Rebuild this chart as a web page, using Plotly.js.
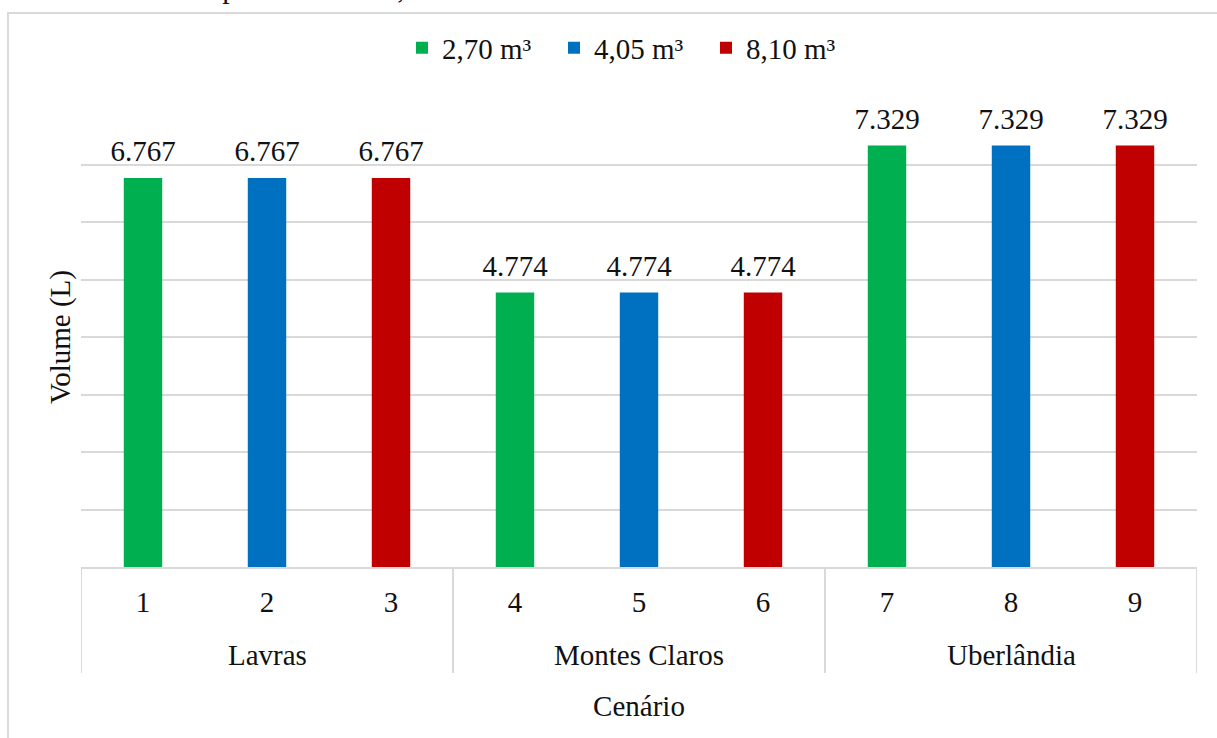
<!DOCTYPE html>
<html>
<head>
<meta charset="utf-8">
<script src="https://cdn.plot.ly/plotly-3.0.1.min.js"></script>
<style>
  html, body { margin: 0; padding: 0; background: #ffffff; }
  #chart { width: 1217px; height: 738px; }
</style>
</head>
<body>
<div id="chart"></div>
<script>
// ---- Data ----
const cities = ["Lavras", "Montes Claros", "Uberlândia"];
const scenarios = [["1", "2", "3"], ["4", "5", "6"], ["7", "8", "9"]];
const seriesNames = ["2,70 m³", "4,05 m³", "8,10 m³"];
const vol270 = [6767, 4774, 7329];   // scenarios 1, 4, 7
const vol405 = [6767, 4774, 7329];   // scenarios 2, 5, 8
const vol810 = [6767, 4774, 7329];   // scenarios 3, 6, 9
const seriesValues = [vol270, vol405, vol810];
const seriesColors = ["#00B050", "#0070C0", "#C00000"];
const captionText = "municípios de Lavras, Montes Claros e Uberlândia.";

// ---- Derived ----
const xCats = [].concat(...scenarios);
const groupStart = [];
let acc = 0;
scenarios.forEach(g => { groupStart.push(acc); acc += g.length; });

const FONT = "Liberation Serif";
const FS = 29;
const TXT = "#111111";
const GRID = "#d9d9d9";

// plot-area pixel geometry (used only for paper placement of frame items)
const W = 1217, H = 738, ML = 81, MR = 20, MT = 107, MB = 171;
const PW = W - ML - MR, PH = H - MT - MB;
const px2x = p => (p - ML) / PW;
const py2y = p => (H - MB - p) / PH;

const traces = [];
seriesValues.forEach((vals, k) => {
  const y = xCats.map(() => null);
  vals.forEach((v, i) => { y[groupStart[i] + k] = v; });
  traces.push({
    type: "bar",
    name: seriesNames[k],
    x: xCats,
    y: y,
    width: 0.31,
    marker: { color: seriesColors[k] },
    hoverinfo: "y+name"
  });
});
// data labels
seriesValues.forEach((vals, k) => {
  const y = xCats.map(() => null);
  vals.forEach((v, i) => { y[groupStart[i] + k] = v; });
  traces.push({
    type: "scatter",
    mode: "markers+text",
    x: xCats,
    y: y,
    texttemplate: "%{y:,}",
    textposition: "top center",
    textfont: { family: FONT, size: FS, color: TXT },
    marker: { size: 14, color: "rgba(0,0,0,0)" },
    showlegend: false,
    hoverinfo: "skip",
    cliponaxis: false
  });
});

// group dividers and group labels
const shapes = [
  { type: "rect", xref: "paper", yref: "paper",
    x0: px2x(8), x1: 1.2, y0: -0.6, y1: py2y(13),
    line: { color: GRID, width: 2 }, fillcolor: "rgba(0,0,0,0)", layer: "below" }
];
const annotations = [];
scenarios.forEach((g, i) => {
  shapes.push({ type: "line", xref: "x", yref: "paper",
    x0: groupStart[i] - 0.5, x1: groupStart[i] - 0.5, y0: 0, y1: py2y(673),
    line: { color: GRID, width: 2 } });
  annotations.push({ text: cities[i], xref: "x", yref: "paper",
    x: groupStart[i] + (g.length - 1) / 2, y: py2y(655), yanchor: "middle",
    showarrow: false, font: { family: FONT, size: FS, color: TXT } });
});
shapes.push({ type: "line", xref: "x", yref: "paper",
  x0: acc - 0.5, x1: acc - 0.5, y0: 0, y1: py2y(673),
  line: { color: GRID, width: 2 } });
annotations.push({ text: captionText, xref: "paper", yref: "paper",
  x: px2x(137), xanchor: "left", y: py2y(6), yanchor: "bottom",
  showarrow: false, font: { family: FONT, size: 30, color: TXT } });

const layout = {
  width: W,
  height: H,
  separators: ",.",
  paper_bgcolor: "#ffffff",
  plot_bgcolor: "#ffffff",
  font: { family: FONT, size: FS, color: TXT },
  margin: { l: ML, r: MR, t: MT, b: MB, pad: 0, autoexpand: false },
  barmode: "overlay",
  showlegend: true,
  legend: {
    orientation: "h",
    x: px2x(630), xanchor: "center",
    y: py2y(48), yanchor: "middle",
    entrywidth: 107, entrywidthmode: "pixels",
    font: { family: FONT, size: FS, color: TXT },
    itemclick: false, itemdoubleclick: false,
    traceorder: "normal"
  },
  xaxis: {
    type: "category",
    range: [-0.5, acc - 0.5],
    showline: true, linecolor: GRID, linewidth: 2,
    showgrid: false, zeroline: false,
    ticks: "",
    ticklabelstandoff: 8,
    tickfont: { family: FONT, size: FS, color: TXT },
    title: { text: "Cenário", font: { family: FONT, size: FS, color: TXT }, standoff: 79 },
    automargin: false,
    fixedrange: true
  },
  yaxis: {
    range: [0, 8000],
    dtick: 1000,
    showticklabels: false,
    showgrid: true, gridcolor: GRID, gridwidth: 1.5,
    zeroline: false, showline: false, ticks: "",
    title: { text: "Volume (L)", font: { family: FONT, size: FS, color: TXT }, standoff: 0 },
    automargin: false,
    fixedrange: true
  },
  shapes: shapes,
  annotations: annotations
};

Plotly.newPlot("chart", traces, layout, { displayModeBar: false });
</script>
</body>
</html>
